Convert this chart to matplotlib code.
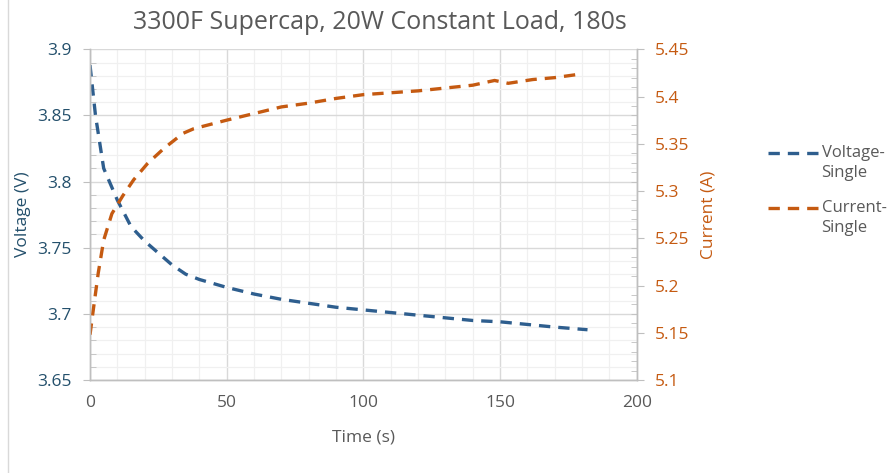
import matplotlib
matplotlib.use("Agg")
import matplotlib.pyplot as plt
from matplotlib.ticker import MultipleLocator, FuncFormatter
from matplotlib.lines import Line2D

plt.rcParams['font.family'] = ['Open Sans', 'DejaVu Sans']

# voltage readings
t_volt = [0, 2, 5, 10, 15, 20, 25, 30, 35, 40, 50, 60, 70, 80, 90, 100,
          110, 120, 130, 140, 150, 160, 170, 182]
volt = [3.888, 3.850, 3.810, 3.786, 3.766, 3.755, 3.746, 3.737, 3.730, 3.726,
        3.720, 3.715, 3.711, 3.708, 3.705, 3.703, 3.701, 3.699, 3.697, 3.695,
        3.694, 3.692, 3.690, 3.688]

# current readings
t_curr = [0, 1, 3, 5, 8, 12, 16, 21, 27, 34, 38, 50, 60, 70, 80, 90, 100,
          110, 120, 130, 140, 148, 153, 162, 170, 180]
curr = [5.148, 5.170, 5.213, 5.248, 5.276, 5.295, 5.312, 5.329, 5.345, 5.361,
        5.366, 5.375, 5.382, 5.389, 5.393, 5.398, 5.402, 5.404, 5.406, 5.409,
        5.412, 5.417, 5.414, 5.418, 5.420, 5.424]

series_names = ['Voltage-\nSingle', 'Current-\nSingle']

blue = '#2E5E8E'
orange = '#C55A11'
gray = '#595959'
axis_blue = '#24506C'
fs = 12.5

fig = plt.figure(figsize=(8.93, 4.73), dpi=100)
ax = fig.add_axes([0.1008, 0.1966, 0.6122, 0.6992])
ax2 = ax.twinx()

ax.plot(t_volt, volt, color=blue, lw=2.4, dashes=(3.4, 2.4), dash_capstyle='butt')
ax2.plot(t_curr, curr, color=orange, lw=2.4, dashes=(3.4, 2.4), dash_capstyle='butt')

ax.set_xlim(0, 200)
ax.set_ylim(3.65, 3.9)
ax2.set_ylim(5.1, 5.45)

ax.xaxis.set_major_locator(MultipleLocator(50))
ax.xaxis.set_minor_locator(MultipleLocator(10))
ax.yaxis.set_major_locator(MultipleLocator(0.05))
ax.yaxis.set_minor_locator(MultipleLocator(0.01))
ax2.yaxis.set_major_locator(MultipleLocator(0.05))
ax2.yaxis.set_minor_locator(MultipleLocator(0.01))
fmt = FuncFormatter(lambda v, p: '%g' % round(v, 3))
ax.yaxis.set_major_formatter(fmt)
ax2.yaxis.set_major_formatter(fmt)

ax.grid(which='major', color='#D9D9D9', lw=1.0)
ax.grid(which='minor', color='#F0F0F0', lw=0.9)
ax.set_axisbelow(True)

for a in (ax, ax2):
    for s in a.spines.values():
        s.set_color('#BFBFBF')
        s.set_linewidth(1.0)
    a.spines['top'].set_visible(False)

ax.tick_params(axis='x', which='both', length=0, labelsize=fs, colors=gray, pad=11)
ax.tick_params(axis='y', which='major', length=5, direction='out', color='#BFBFBF',
               labelsize=fs, labelcolor=axis_blue, pad=8)
ax.tick_params(axis='y', which='minor', length=4, direction='in', color='#BFBFBF')
ax2.tick_params(axis='y', which='major', length=5, direction='out', color='#BFBFBF',
                labelsize=fs, labelcolor=orange, pad=8)
ax2.tick_params(axis='y', which='minor', length=4, direction='in', color='#BFBFBF')

ax.set_xlabel('Time (s)', fontsize=fs, color=gray, labelpad=13)
ax.set_ylabel('Voltage (V)', fontsize=fs, color=axis_blue, labelpad=5)
ax2.set_ylabel('Current (A)', fontsize=fs, color=orange, labelpad=8)

fig.text(0.425, 0.953, '3300F Supercap, 20W Constant Load, 180s', ha='center',
         va='center', fontsize=18, color=gray)

# legend, drawn by hand so the sample line sits beside the first text line
for name, col, yy in zip(series_names, [blue, orange], [0.676, 0.56]):
    fig.add_artist(Line2D([0.86, 0.917], [yy, yy], transform=fig.transFigure,
                          color=col, lw=2.4, dashes=(3.4, 2.4)))
    fig.text(0.92, yy + 0.017, name, ha='left', va='top', fontsize=12,
             color=gray, linespacing=1.35)

fig.add_artist(Line2D([0.009, 0.009], [0, 1], transform=fig.transFigure,
                      color='#D9D9D9', lw=1))

fig.savefig('out.png', dpi=100)
